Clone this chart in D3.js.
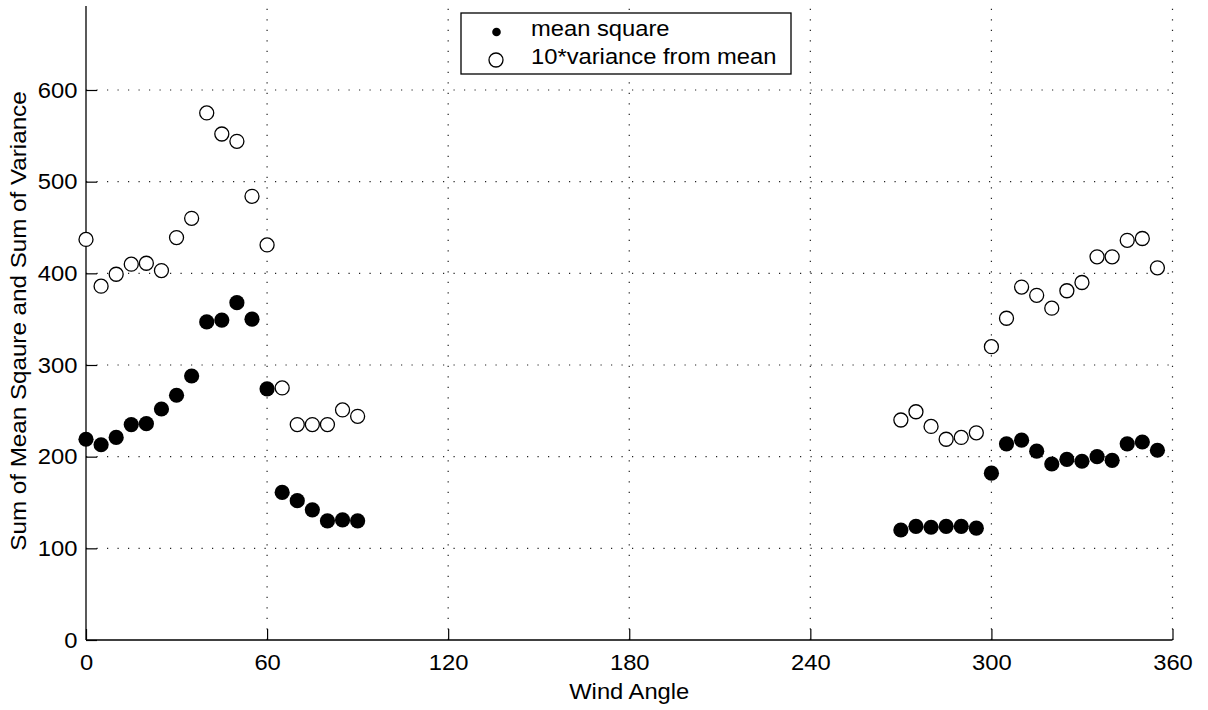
<!DOCTYPE html>
<html>
<head>
<meta charset="utf-8">
<script src="https://cdn.jsdelivr.net/npm/d3@7/dist/d3.min.js"></script>
<style>
  body { margin: 0; background: #fff; }
  text { font-family: "Liberation Sans", Arial, Helvetica, sans-serif; fill: #000; }
</style>
</head>
<body>
<svg id="chart" width="1208" height="710"></svg>
<script>
// Wind angle (degrees) for each sample
const angles = [0, 5, 10, 15, 20, 25, 30, 35, 40, 45, 50, 55, 60, 65, 70, 75, 80, 85, 90,
                270, 275, 280, 285, 290, 295, 300, 305, 310, 315, 320, 325, 330, 335, 340, 345, 350, 355];
// Sum of mean square
const meanSquare = [219, 213, 221, 235, 236, 252, 267, 288, 347, 349, 368, 350, 274, 161, 152, 142, 130, 131, 130,
                    120, 124, 123, 124, 124, 122, 182, 214, 218, 206, 192, 197, 195, 200, 196, 214, 216, 207];
// 10 * variance from mean
const varianceX10 = [437, 386, 399, 410, 411, 403, 439, 460, 575, 552, 544, 484, 431, 275, 235, 235, 235, 251, 244,
                     240, 249, 233, 219, 221, 226, 320, 351, 385, 376, 362, 381, 390, 418, 418, 436, 438, 406];

const xTicks = [0, 60, 120, 180, 240, 300, 360];
const yTicks = [0, 100, 200, 300, 400, 500, 600];
const legendLabels = ["mean square", "10*variance from mean"];
const xTitle = "Wind Angle";
const yTitle = "Sum of Mean Sqaure and Sum of Variance";

const svg = d3.select("#chart");
const plotLeft = 86, plotRight = 1172.5, plotBottom = 640, plotTop = 6;
const fontSize = 22, stretch = 1.08;

const x = d3.scaleLinear().domain([0, 360]).range([plotLeft, plotRight]);
const y = d3.scaleLinear().domain([0, 600]).range([plotBottom, 90]);

// dotted grid
const grid = svg.append("g")
  .attr("stroke", "#222").attr("stroke-width", 1.2).attr("stroke-dasharray", "1.2 9.3");
grid.selectAll("line.v").data(xTicks.filter(d => d > 0)).join("line").attr("class", "v")
  .attr("x1", d => x(d)).attr("x2", d => x(d)).attr("y1", plotBottom).attr("y2", plotTop);
grid.selectAll("line.h").data(yTicks.filter(d => d > 0)).join("line").attr("class", "h")
  .attr("x1", plotLeft).attr("x2", plotRight).attr("y1", d => y(d)).attr("y2", d => y(d));

// axes with inward ticks
const xAxis = svg.append("g").attr("transform", `translate(0,${plotBottom})`)
  .call(d3.axisBottom(x).tickValues(xTicks).tickSizeInner(-11).tickSizeOuter(0).tickPadding(14.4));
const yAxis = svg.append("g").attr("transform", `translate(${plotLeft},0)`)
  .call(d3.axisLeft(y).tickValues(yTicks).tickSizeInner(-11).tickSizeOuter(0).tickPadding(8));
[xAxis, yAxis].forEach(g => {
  g.attr("font-family", null).attr("font-size", null);
  g.selectAll("path.domain").remove();
  g.selectAll(".tick line").attr("stroke", "#000").attr("stroke-width", 1.2);
  g.selectAll(".tick text").style("font-size", fontSize + "px").attr("transform", `scale(${stretch},1)`);
});
svg.append("line").attr("x1", plotLeft).attr("x2", plotRight).attr("y1", plotBottom).attr("y2", plotBottom)
  .attr("stroke", "#000").attr("stroke-width", 1.3);
svg.append("line").attr("x1", plotLeft).attr("x2", plotLeft).attr("y1", plotBottom).attr("y2", plotTop)
  .attr("stroke", "#000").attr("stroke-width", 1.3);

// axis titles
svg.append("g").attr("transform", `translate(${(plotLeft + plotRight) / 2},699) scale(${stretch},1)`)
  .append("text").attr("text-anchor", "middle").style("font-size", fontSize + "px").text(xTitle);
svg.append("g").attr("transform", `translate(26,321) rotate(-90) scale(1.1,1)`)
  .append("text").attr("text-anchor", "middle").style("font-size", fontSize + "px").text(yTitle);

// data markers
const rows = angles.map((a, i) => ({ a, ms: meanSquare[i], v: varianceX10[i] }));
svg.append("g").selectAll("circle").data(rows).join("circle")
  .attr("cx", d => x(d.a)).attr("cy", d => y(d.v)).attr("r", 7)
  .attr("fill", "#fff").attr("stroke", "#000").attr("stroke-width", 1.3);
svg.append("g").selectAll("circle").data(rows).join("circle")
  .attr("cx", d => x(d.a)).attr("cy", d => y(d.ms)).attr("r", 7.6)
  .attr("fill", "#000");

// legend
const lg = svg.append("g");
lg.append("rect").attr("x", 461).attr("y", 13).attr("width", 330).attr("height", 61)
  .attr("fill", "#fff").attr("stroke", "#000").attr("stroke-width", 1.3);
lg.append("circle").attr("cx", 496.5).attr("cy", 32).attr("r", 4.3).attr("fill", "#000");
lg.append("circle").attr("cx", 496).attr("cy", 60).attr("r", 7)
  .attr("fill", "#fff").attr("stroke", "#000").attr("stroke-width", 1.3);
legendLabels.forEach((t, i) => {
  lg.append("g").attr("transform", `translate(531,${36 + i * 28}) scale(${stretch},1)`)
    .append("text").style("font-size", fontSize + "px").text(t);
});
</script>
</body>
</html>
